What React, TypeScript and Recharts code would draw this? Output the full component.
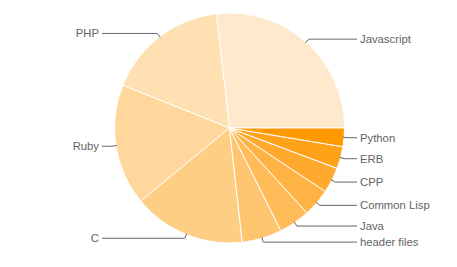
import { PieChart, Pie, Cell } from "recharts";

const languages = [
  "Javascript",
  "PHP",
  "Ruby",
  "C",
  "header files",
  "Java",
  "Common Lisp",
  "CPP",
  "ERB",
  "Python",
];
const shares = [26.8, 17.1, 17.0, 15.8, 5.6, 4.4, 3.9, 3.6, 3.1, 2.6];
const colors = [
  "#FFE9CC",
  "#FFE0B3",
  "#FFD79C",
  "#FFCE85",
  "#FFC56E",
  "#FFBC58",
  "#FFB344",
  "#FFAA2E",
  "#FFA219",
  "#FF9900",
];

const data = languages.map((name, i) => ({ name, value: shares[i] }));

const RADIAN = Math.PI / 180;

function renderLabel(props: any) {
  const { cx, cy, midAngle, outerRadius, index } = props;
  const cos = Math.cos(-midAngle * RADIAN);
  const sin = Math.sin(-midAngle * RADIAN);
  const x0 = cx + (outerRadius - 1) * cos;
  const y0 = cy + (outerRadius - 1) * sin;
  const x1 = cx + (outerRadius + 4) * cos;
  const y1 = cy + (outerRadius + 4) * sin;
  const right = cos >= 0;
  const x2 = right ? 357 : 102;
  const tx = right ? 360 : 99;
  return (
    <g key={`lbl-${index}`}>
      <polyline
        points={`${x0},${y0} ${x1},${y1} ${x2},${y1}`}
        fill="none"
        stroke="#666666"
        strokeWidth={1}
      />
      <text
        x={tx}
        y={y1}
        textAnchor={right ? "start" : "end"}
        dominantBaseline="central"
        fill="#636363"
        fontSize={11.3}
        fontFamily="'Liberation Sans', Arial, sans-serif"
      >
        {languages[index]}
      </text>
    </g>
  );
}

export default function App() {
  return (
    <div style={{ position: "absolute", left: 0, top: 0, background: "#fff" }}>
      <PieChart
        width={457}
        height={267}
        margin={{ top: 0, right: 0, bottom: 0, left: 0 }}
      >
        <Pie
          data={data}
          dataKey="value"
          nameKey="name"
          cx={229.5}
          cy={128}
          outerRadius={115}
          startAngle={0}
          endAngle={360}
          stroke="#ffffff"
          strokeWidth={1}
          label={renderLabel}
          labelLine={false}
          isAnimationActive={false}
        >
          {data.map((d, i) => (
            <Cell key={d.name} fill={colors[i]} />
          ))}
        </Pie>
      </PieChart>
    </div>
  );
}
